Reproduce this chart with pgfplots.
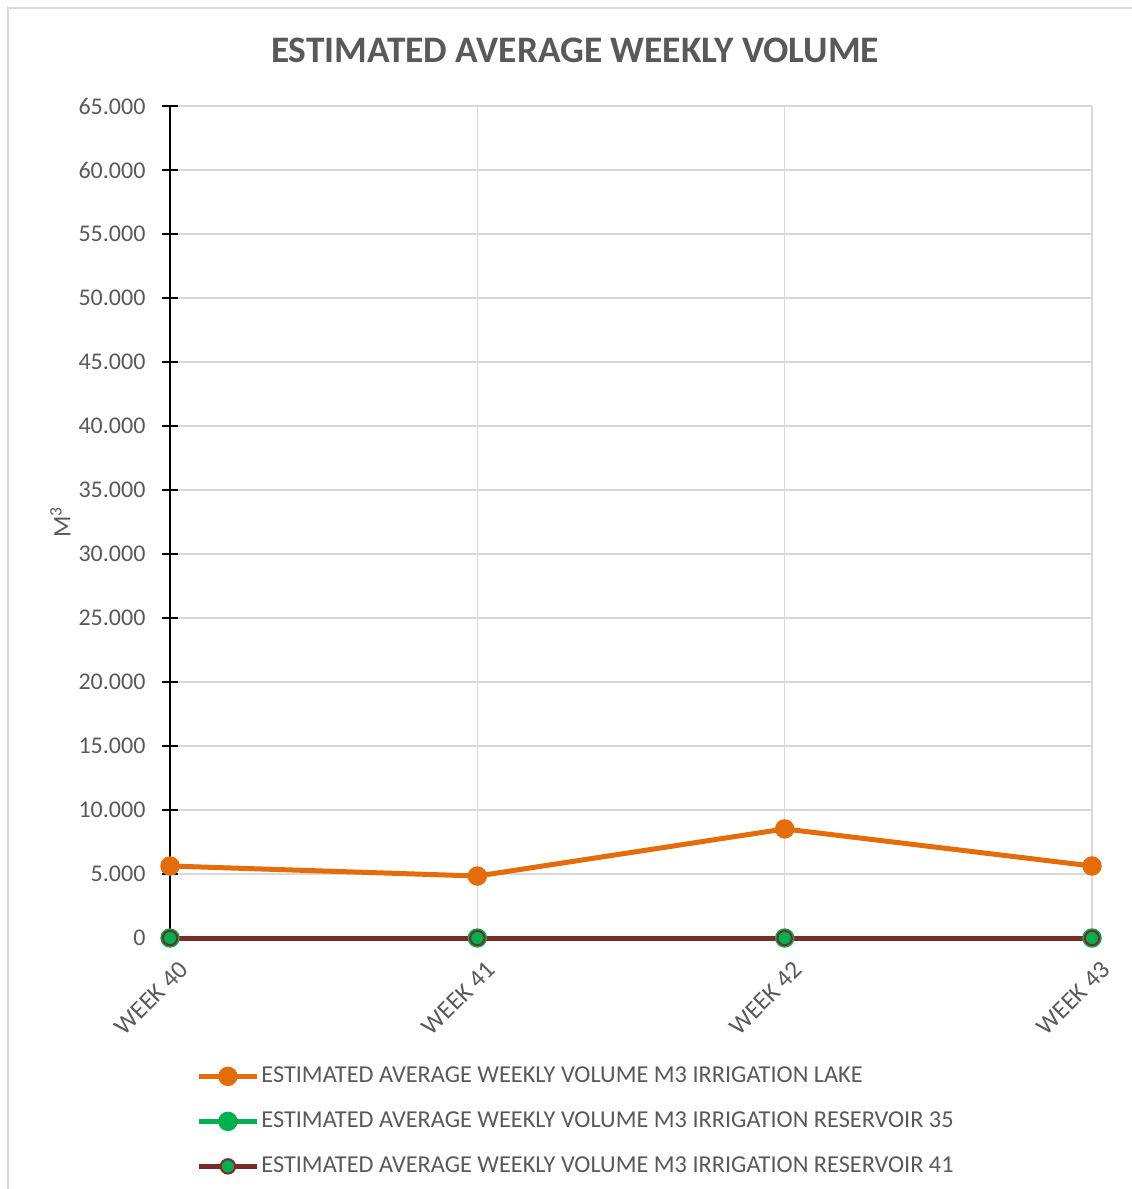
\documentclass[border=0pt]{standalone}
\usepackage{pgfplots}
\pgfplotsset{compat=1.18}
\usepackage{fontspec}
\setmainfont{Carlito}
\definecolor{txt}{HTML}{595959}
\definecolor{lake}{HTML}{E46C0A}
\definecolor{resgreen}{HTML}{00B050}
\definecolor{resbrown}{HTML}{772C2A}
\definecolor{gridc}{HTML}{D9D9D9}
\begin{document}
\begin{tikzpicture}
\useasboundingbox (0,0) rectangle (565.5pt,594.5pt);
\draw[gridc, line width=0.75pt] (4pt,-5pt) -- (4pt,590.5pt) -- (600pt,590.5pt);
\node[txt, font=\fontsize{18.7}{22}\selectfont\bfseries] at (287.5pt,569.5pt) {ESTIMATED AVERAGE WEEKLY VOLUME};
\begin{axis}[
  at={(85pt,125.5pt)}, anchor=south west,
  scale only axis, width=461pt, height=416pt,
  xmin=0, xmax=3, ymin=0, ymax=65000,
  clip=false,
  axis y line*=left, axis x line*=bottom,
  x axis line style={draw=none},
  y axis line style={black, line width=1pt},
  xtick={0,1,2,3},
  xticklabels={WEEK 40,WEEK 41,WEEK 42,WEEK 43},
  xtick style={draw=none},
  ytick distance=5000,
  scaled y ticks=false,
  ytick style={black, line width=1pt},
  tick align=center, major tick length=7.5pt,
  grid=major, major grid style={gridc, line width=0.75pt},
  /pgf/number format/.cd, fixed, 1000 sep={.}, assume math mode=true,
  /pgfplots/.cd,
  yticklabel style={txt, font=\fontsize{12}{14}\selectfont, xshift=-5pt},
  xticklabel style={txt, font=\fontsize{12.6}{14}\selectfont, rotate=45, anchor=east, xshift=1pt, yshift=-12pt},
  ylabel={M\textsuperscript{3}},
  ylabel style={txt, font=\fontsize{12.5}{14}\selectfont, at={(axis description cs:-0.119,0.5)}, anchor=center, rotate=0},
  legend style={at={(axis description cs:0.0217,-0.1466)}, anchor=north west, draw=none, fill=none,
    font=\fontsize{12.15}{14}\selectfont, text=txt, row sep=10.5pt,
    nodes={inner ysep=0pt, inner xsep=1pt, text height=9pt, text depth=3pt}},
  legend cell align=left,
  legend image code/.code={\draw[mark repeat=2,mark phase=2] plot coordinates {(0pt,0pt) (14.5pt,0pt) (29pt,0pt)};},
]
\addplot[lake, line width=2.5pt, mark=*, mark size=3.6pt, mark options={solid, fill=lake, draw=lake}] coordinates {(0,5625) (1,4840) (2,8520) (3,5625)};
\addlegendentry{ESTIMATED AVERAGE WEEKLY VOLUME M3 IRRIGATION LAKE}
\addplot[resgreen, line width=2.5pt, mark=*, mark size=3.6pt, mark options={solid, fill=resgreen, draw=resgreen}] coordinates {(0,0) (1,0) (2,0) (3,0)};
\addlegendentry{ESTIMATED AVERAGE WEEKLY VOLUME M3 IRRIGATION RESERVOIR 35}
\addplot[resbrown, line width=2.5pt, mark=*, mark size=3.6pt, mark options={solid, fill=resgreen, draw=resbrown, line width=1pt}] coordinates {(0,0) (1,0) (2,0) (3,0)};
\addlegendentry{ESTIMATED AVERAGE WEEKLY VOLUME M3 IRRIGATION RESERVOIR 41}
\end{axis}
\end{tikzpicture}
\end{document}
